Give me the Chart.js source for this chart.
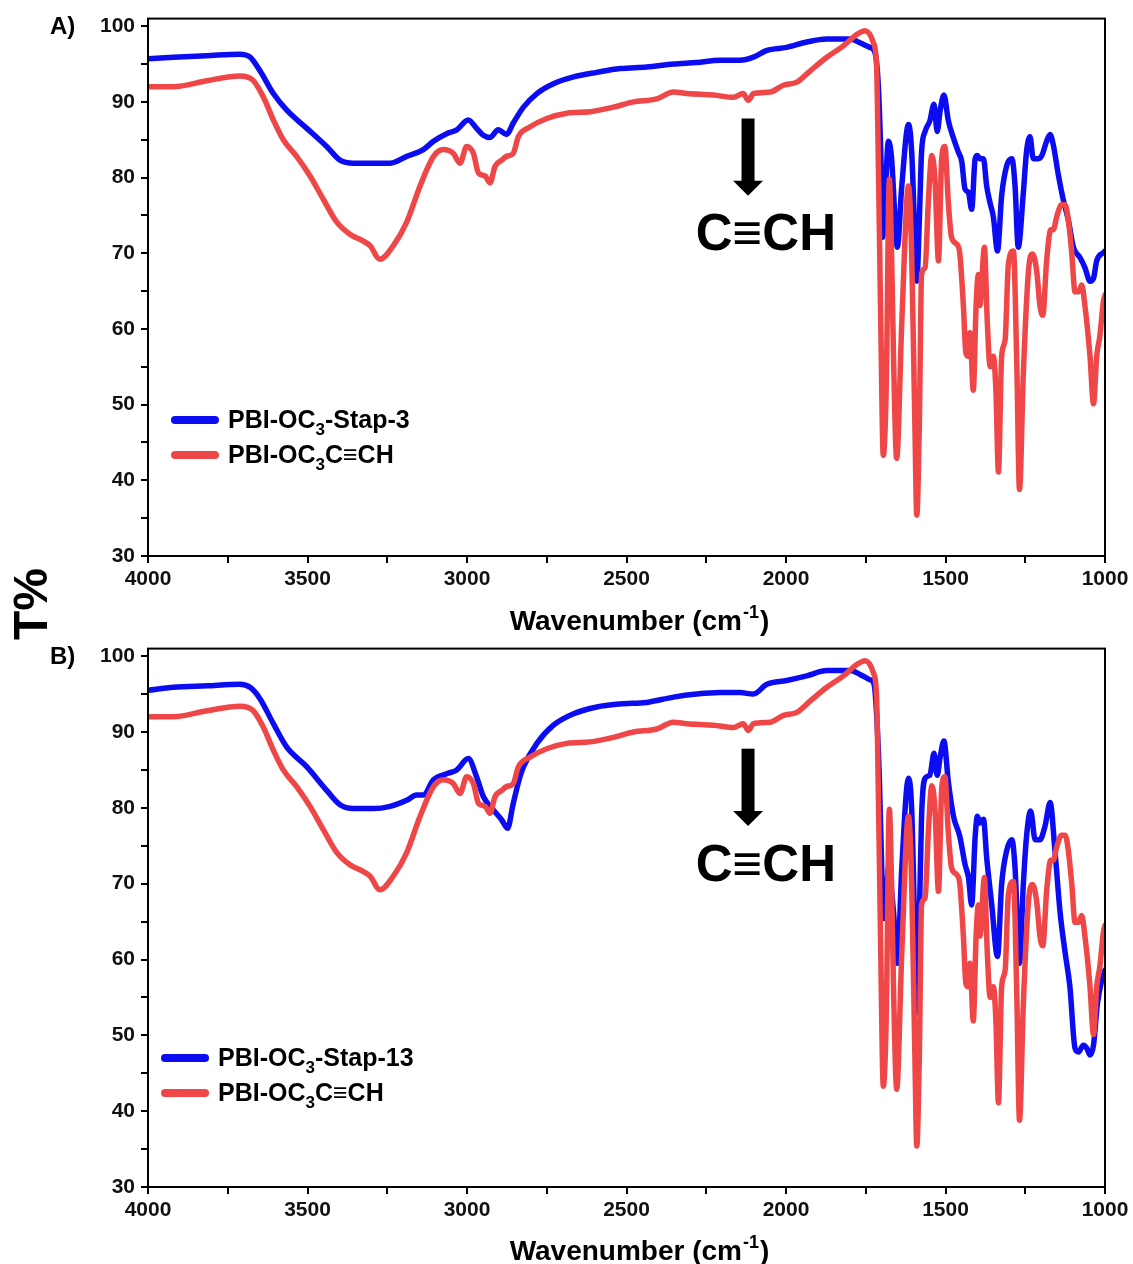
<!DOCTYPE html>
<html>
<head>
<meta charset="utf-8">
<title>FTIR spectra</title>
<script src="https://cdn.jsdelivr.net/npm/chart.js@4.4.1/dist/chart.umd.min.js"></script>
<style>
    body { margin: 0; background: #fff; width: 1133px; height: 1264px; position: relative; overflow: hidden; }
    canvas { position: absolute; left: 0; }
    #panelA { top: 0; z-index: 1; }
    #panelB { top: 630px; z-index: 2; }
</style>
</head>
<body>
<canvas id="panelA" width="1133" height="645"></canvas>
<canvas id="panelB" width="1133" height="634"></canvas>
<script>
    "use strict";

    // Spectra as [wavenumber (cm-1), T%]
    // PBI-OC3C≡CH (same trace in both panels)
    const red = [
        [4000, 92.0], [3920, 92.0], [3816, 92.8], [3712, 93.4], [3670, 92.8], [3638, 90.6],
        [3607, 87.6], [3576, 85.0], [3534, 82.8], [3492, 80.2], [3450, 77.1], [3408, 74.1],
        [3367, 72.5], [3325, 71.6], [3304, 71.0], [3273, 69.2], [3231, 71.0], [3189, 74.1],
        [3147, 78.9], [3105, 82.8], [3074, 83.7], [3043, 83.2], [3022, 81.9], [3001, 84.1],
        [2980, 83.2], [2964, 80.6], [2943, 80.2], [2928, 79.3], [2912, 81.5], [2891, 82.3],
        [2876, 82.8], [2855, 83.2], [2839, 85.4], [2802, 86.7], [2750, 87.8], [2687, 88.5],
        [2614, 88.7], [2541, 89.3], [2478, 90.0], [2405, 90.4], [2353, 91.3], [2311, 91.1],
        [2227, 90.9], [2165, 90.6], [2134, 91.1], [2118, 90.2], [2102, 91.1], [2050, 91.3],
        [2008, 92.2], [1966, 92.6], [1924, 94.1], [1872, 95.9], [1820, 97.4], [1778, 98.9],
        [1752, 99.4], [1726, 97.8], [1716, 94.7], [1711, 83.4], [1703, 60.9], [1695, 43.3],
        [1686, 51.9], [1676, 79.8], [1669, 69.9], [1663, 56.4], [1653, 42.9], [1637, 60.9],
        [1616, 78.9], [1606, 69.9], [1596, 47.4], [1590, 35.4], [1582, 47.4], [1575, 67.2],
        [1564, 68.1], [1554, 76.6], [1543, 82.9], [1533, 79.8], [1522, 69.0], [1512, 82.5],
        [1502, 84.1], [1491, 76.6], [1481, 72.1], [1465, 71.2], [1455, 69.9], [1444, 63.1],
        [1436, 56.8], [1428, 56.4], [1423, 59.5], [1413, 51.9], [1404, 63.1], [1397, 67.2],
        [1392, 63.1], [1378, 70.8], [1369, 60.9], [1360, 55.0], [1350, 56.4], [1342, 51.9],
        [1334, 41.1], [1324, 56.4], [1313, 58.6], [1303, 68.5], [1287, 70.3], [1277, 56.4],
        [1268, 38.8], [1256, 54.1], [1240, 67.6], [1227, 69.9], [1214, 67.6], [1204, 63.1],
        [1195, 61.8], [1183, 69.0], [1170, 73.1], [1162, 73.1], [1151, 74.9], [1136, 76.4],
        [1125, 76.4], [1115, 74.4], [1104, 69.9], [1094, 64.9], [1083, 64.9], [1073, 65.8],
        [1063, 63.1], [1047, 56.4], [1036, 50.1], [1026, 56.4], [1016, 59.1], [1005, 63.6],
        [1000, 64.5]
    ];

    // PBI-OC3-Stap-3 (panel A)
    const blueA = [
        [4000, 95.7], [3920, 95.9], [3816, 96.1], [3712, 96.3], [3680, 95.9], [3649, 94.1],
        [3607, 91.1], [3565, 88.9], [3502, 86.5], [3440, 84.1], [3398, 82.3], [3356, 81.9],
        [3294, 81.9], [3241, 81.9], [3189, 82.8], [3137, 83.7], [3105, 84.8], [3064, 85.8],
        [3032, 86.3], [2996, 87.6], [2970, 86.5], [2949, 85.6], [2928, 85.3], [2902, 86.3],
        [2876, 85.7], [2855, 87.2], [2823, 89.3], [2781, 91.1], [2729, 92.4], [2666, 93.3],
        [2593, 93.9], [2520, 94.4], [2437, 94.6], [2353, 95.0], [2280, 95.2], [2207, 95.5],
        [2144, 95.5], [2102, 95.9], [2060, 96.8], [1998, 97.2], [1935, 97.9], [1872, 98.3],
        [1799, 98.3], [1768, 97.8], [1737, 97.2], [1721, 96.5], [1711, 92.4], [1703, 83.4],
        [1697, 72.1], [1690, 76.6], [1679, 84.8], [1669, 82.5], [1658, 74.4], [1651, 70.8],
        [1637, 78.9], [1616, 87.0], [1606, 83.4], [1596, 72.1], [1590, 66.3], [1582, 74.4],
        [1575, 83.4], [1564, 86.1], [1549, 87.5], [1536, 89.7], [1526, 86.1], [1517, 88.8],
        [1505, 90.9], [1491, 87.5], [1475, 85.2], [1460, 83.4], [1449, 82.1], [1439, 78.5],
        [1428, 78.0], [1418, 75.8], [1407, 82.5], [1400, 82.9], [1392, 82.5], [1381, 82.5],
        [1371, 78.9], [1360, 76.6], [1350, 74.8], [1337, 70.3], [1324, 77.6], [1308, 81.6],
        [1292, 82.5], [1282, 78.9], [1272, 70.8], [1256, 78.0], [1246, 83.4], [1235, 85.4],
        [1225, 82.5], [1209, 82.5], [1198, 82.9], [1183, 84.8], [1172, 85.7], [1162, 84.3],
        [1146, 80.3], [1131, 77.1], [1115, 74.4], [1099, 70.8], [1078, 69.4], [1063, 68.1],
        [1047, 66.3], [1036, 66.7], [1026, 69.0], [1005, 70.1], [1000, 70.3]
    ];

    // PBI-OC3-Stap-13 (panel B)
    const blueB = [
        [4000, 95.5], [3920, 95.9], [3816, 96.1], [3712, 96.3], [3680, 95.9], [3649, 94.4],
        [3607, 91.1], [3565, 88.0], [3502, 85.4], [3440, 82.3], [3398, 80.4], [3356, 79.9],
        [3294, 79.9], [3241, 80.2], [3189, 81.0], [3158, 81.7], [3137, 81.7], [3105, 83.7],
        [3064, 84.5], [3032, 85.0], [2996, 86.5], [2970, 84.1], [2949, 81.5], [2917, 79.7],
        [2891, 78.4], [2873, 77.3], [2855, 80.6], [2834, 84.1], [2823, 85.4], [2781, 88.5],
        [2729, 90.9], [2666, 92.4], [2593, 93.3], [2520, 93.7], [2437, 93.9], [2353, 94.6],
        [2280, 95.0], [2207, 95.2], [2144, 95.2], [2102, 95.0], [2060, 96.3], [1998, 96.8],
        [1935, 97.4], [1872, 98.1], [1799, 98.1], [1768, 97.6], [1737, 96.9], [1724, 96.3],
        [1716, 92.4], [1707, 83.4], [1700, 72.1], [1693, 65.4], [1684, 69.0], [1679, 72.0],
        [1663, 66.3], [1651, 59.5], [1637, 72.1], [1616, 83.9], [1606, 79.8], [1596, 63.1],
        [1590, 53.0], [1582, 65.4], [1575, 78.9], [1564, 83.9], [1549, 84.3], [1536, 87.2],
        [1526, 84.3], [1517, 86.6], [1505, 88.8], [1491, 83.4], [1475, 78.9], [1455, 76.2],
        [1439, 72.6], [1428, 70.8], [1418, 67.2], [1407, 76.2], [1400, 78.9], [1392, 78.0],
        [1381, 78.5], [1371, 73.5], [1355, 67.2], [1337, 60.4], [1324, 69.9], [1308, 74.4],
        [1292, 75.8], [1282, 72.1], [1268, 59.5], [1256, 69.9], [1246, 76.2], [1233, 79.6],
        [1219, 75.8], [1204, 75.8], [1188, 77.6], [1172, 80.7], [1157, 74.4], [1141, 66.3],
        [1125, 60.9], [1110, 56.4], [1094, 48.3], [1083, 47.8], [1068, 48.7], [1057, 48.3],
        [1047, 47.4], [1036, 48.7], [1024, 54.1], [1010, 57.3], [1000, 58.6]
    ];

    // Axes
    const xTicks = [4000, 3750, 3500, 3250, 3000, 2750, 2500, 2250, 2000, 1750, 1500, 1250, 1000];
    const xLabelStep = 500;
    const yTicks = [30, 35, 40, 45, 50, 55, 60, 65, 70, 75, 80, 85, 90, 95, 100];
    const yLabelStep = 10;

    // Series names ("_" marks a one-character subscript)
    const namesA = ['PBI-OC_3-Stap-3', 'PBI-OC_3C≡CH'];
    const namesB = ['PBI-OC_3-Stap-13', 'PBI-OC_3C≡CH'];

    // C≡CH marker: arrow at 2119 cm-1 pointing down, label below
    const markWn = 2119;
    const markArrow = [87.8, 77.6];
    const markLabel = { wn: 2063, t: 70.4, text: 'C≡CH' };

    const BLUE = '#0c0cf2';
    const RED = '#ef4747';
    const FONT = '"Liberation Sans", Arial, Helvetica, sans-serif';

    Chart.defaults.font.family = FONT;
    Chart.defaults.color = '#111';

    const toXY = arr => arr.map(p => ({ x: p[0], y: p[1] }));

    // text with one-char subscripts
    function drawRich(ctx, str, x, y, size) {
        const parts = str.split('_');
        let cx = x;
        parts.forEach((p, i) => {
            let rest = p;
            if (i > 0) {
                ctx.font = 'bold ' + Math.round(size * 0.68) + 'px ' + FONT;
                ctx.fillText(p[0], cx, y + size * 0.28);
                cx += ctx.measureText(p[0]).width;
                rest = p.slice(1);
            }
            ctx.font = 'bold ' + size + 'px ' + FONT;
            ctx.fillText(rest, cx, y);
            cx += ctx.measureText(rest).width;
        });
    }

    const decor = {
        id: 'decor',
        afterDraw(chart, args, o) {
            const ctx = chart.ctx, a = chart.chartArea;
            const xs = chart.scales.x, ys = chart.scales.y;
            ctx.save();

            // Box
            ctx.strokeStyle = '#000';
            ctx.lineWidth = 2;
            ctx.strokeRect(a.left, a.top, a.right - a.left, a.bottom - a.top);

            ctx.fillStyle = '#000';
            ctx.textAlign = 'left';
            ctx.textBaseline = 'alphabetic';

            // Panel letter
            ctx.font = 'bold 24px ' + FONT;
            ctx.fillText(o.letter, 50, 34);

            // x title with superscript
            const t1 = 'Wavenumber (cm', sup = '-1', t2 = ')';
            ctx.font = 'bold 28px ' + FONT;
            const w1 = ctx.measureText(t1).width, w3 = ctx.measureText(t2).width;
            ctx.font = 'bold 18px ' + FONT;
            const w2 = ctx.measureText(sup).width;
            let tx = (a.left + a.right) / 2 + 12 - (w1 + w2 + w3) / 2;
            const ty = a.bottom + o.titleGap;
            ctx.font = 'bold 28px ' + FONT;
            ctx.fillText(t1, tx, ty);
            ctx.font = 'bold 18px ' + FONT;
            ctx.fillText(sup, tx + w1 + 1, ty - 12);
            ctx.font = 'bold 28px ' + FONT;
            ctx.fillText(t2, tx + w1 + w2 + 2, ty);

            // Legend
            o.names.forEach((name, i) => {
                const y = o.legY + i * 35;
                ctx.strokeStyle = i === 0 ? BLUE : RED;
                ctx.lineWidth = 8;
                ctx.lineCap = 'round';
                ctx.beginPath();
                ctx.moveTo(o.legX, y);
                ctx.lineTo(o.legX + 40, y);
                ctx.stroke();
                drawRich(ctx, name, o.legX + 53, y + 8, 25);
            });

            // Arrow + C≡CH
            const ax = xs.getPixelForValue(markWn);
            const y0 = ys.getPixelForValue(markArrow[0]);
            const y1 = ys.getPixelForValue(markArrow[1]);
            ctx.fillRect(ax - 6.5, y0, 13, (y1 - y0) - 14);
            ctx.beginPath();
            ctx.moveTo(ax - 15, y1 - 15);
            ctx.lineTo(ax + 15, y1 - 15);
            ctx.lineTo(ax, y1);
            ctx.closePath();
            ctx.fill();
            ctx.font = 'bold 51px ' + FONT;
            ctx.textAlign = 'center';
            ctx.fillText(markLabel.text, xs.getPixelForValue(markLabel.wn), ys.getPixelForValue(markLabel.t));

            // Shared y title, only on the top canvas
            if (o.yTitle) {
                ctx.save();
                ctx.translate(47, 604);
                ctx.rotate(-Math.PI / 2);
                ctx.font = 'bold 48px ' + FONT;
                ctx.textAlign = 'center';
                ctx.fillText('T%', 0, 0);
                ctx.restore();
            }
            ctx.restore();
        }
    };

    function makeChart(id, blue, names, letter, axisH, opts) {
        const ctx = document.getElementById(id).getContext('2d');
        return new Chart(ctx, {
            type: 'line',
            data: {
                datasets: [{
                    label: names[0].replace('_', ''),
                    data: toXY(blue),
                    borderColor: BLUE,
                    order: 1
                }, {
                    label: names[1].replace('_', ''),
                    data: toXY(red),
                    borderColor: RED,
                    order: 0
                }]
            },
            options: {
                responsive: false,
                animation: false,
                parsing: false,
                layout: { padding: { left: 0, right: 28, top: 15, bottom: 0 } },
                elements: {
                    point: { radius: 0 },
                    line: { borderWidth: 5.5, cubicInterpolationMode: 'monotone', borderJoinStyle: 'round', borderCapStyle: 'round' }
                },
                plugins: {
                    legend: { display: false },
                    tooltip: { enabled: false },
                    decor: Object.assign({ letter: letter, names: names }, opts)
                },
                scales: {
                    x: {
                        type: 'linear',
                        reverse: true,
                        min: 1000,
                        max: 4000,
                        afterBuildTicks: s => { s.ticks = xTicks.map(v => ({ value: v })); },
                        afterFit: s => { s.height = axisH; },
                        ticks: {
                            autoSkip: false,
                            maxRotation: 0,
                            padding: 4,
                            color: '#111',
                            font: { size: 21, weight: 'bold' },
                            callback: v => (v % xLabelStep === 0 ? v : '')
                        },
                        grid: { drawOnChartArea: false, color: '#000', lineWidth: 2, tickLength: 7 },
                        border: { color: '#000', width: 2 }
                    },
                    y: {
                        min: 30,
                        max: 101,
                        afterBuildTicks: s => { s.ticks = yTicks.map(v => ({ value: v })); },
                        afterFit: s => { s.width = 148; },
                        ticks: {
                            padding: 6,
                            color: '#111',
                            font: { size: 21, weight: 'bold' },
                            callback: v => (v % yLabelStep === 0 ? v : '')
                        },
                        grid: { drawOnChartArea: false, color: '#000', lineWidth: 2, tickLength: 7 },
                        border: { color: '#000', width: 2 }
                    }
                }
            },
            plugins: [decor]
        });
    }

    makeChart('panelA', blueA, namesA, 'A)', 89, { titleGap: 74, legX: 175, legY: 420, yTitle: true });
    makeChart('panelB', blueB, namesB, 'B)', 77, { titleGap: 73, legX: 165, legY: 428, yTitle: false });
</script>
</body>
</html>
